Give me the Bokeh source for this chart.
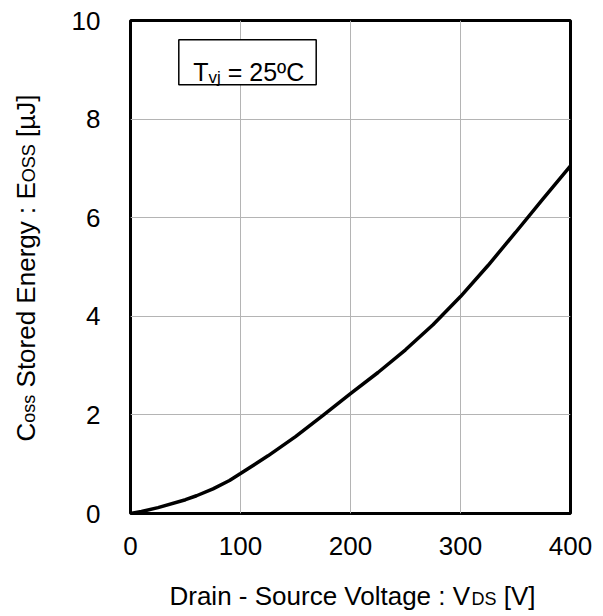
import math
from bokeh.plotting import figure
from bokeh.models import Range1d, Label, BoxAnnotation, FixedTicker
from bokeh.layouts import column, row
from bokeh.embed import file_html
from bokeh.resources import INLINE

# ---- data ----
vds = [0, 10, 25, 50, 60, 75, 90, 100, 125, 150, 175, 200, 225, 250, 275, 300, 325, 350, 375, 400]
eoss = [0.0, 0.04, 0.12, 0.28, 0.36, 0.50, 0.67, 0.81, 1.17, 1.56, 1.99, 2.43, 2.86, 3.32, 3.83, 4.40, 5.03, 5.70, 6.38, 7.05]
x_ticks = [0, 100, 200, 300, 400]
y_ticks = [0, 2, 4, 6, 8, 10]

FONT = "Liberation Sans"
F = 26      # main text size
FS = 18     # subscript size

# Arial / Liberation Sans advance widths (per 1000 em)
ADV = {'D': 722, 'r': 333, 'a': 556, 'i': 222, 'n': 556, ' ': 278, '-': 333, 'S': 667,
       'o': 556, 'u': 556, 'c': 500, 'e': 556, 'V': 667, 'l': 222, 't': 278, 'g': 556,
       ':': 278, '[': 278, ']': 278, 'C': 722, 'E': 667, 'y': 500, 'O': 778, 's': 500,
       'd': 556, 'µ': 577, 'J': 500, 'T': 611, 'v': 500, 'j': 222, '=': 584, '2': 556,
       '5': 556, 'º': 365}


def tw(s, size):
    return sum(ADV.get(ch, 556) for ch in s) * size / 1000.0


def add_piece(fig, text, x, y, size, angle=0.0, dx=0.0, dy=0.0):
    # leading spaces collapse in SVG text: shift instead
    lead = len(text) - len(text.lstrip(" "))
    shift = tw(" " * lead, size)
    if angle == 0:
        dx += shift
    else:
        dy += shift
    fig.add_layout(Label(x=x, y=y, x_offset=dx, y_offset=dy, text=text.lstrip(" "),
                         text_font=FONT, text_font_size=f"{size}px",
                         text_baseline="alphabetic", text_align="left",
                         angle=angle, text_color="black"))


def blank_fig(w, h):
    f = figure(width=w, height=h, output_backend="svg", toolbar_location=None, title=None,
               x_range=Range1d(0, w), y_range=Range1d(0, h),
               x_axis_type=None, y_axis_type=None,
               min_border=0, min_border_left=0, min_border_right=0,
               min_border_top=0, min_border_bottom=0)
    f.outline_line_color = None
    f.background_fill_color = "white"
    f.border_fill_color = "white"
    f.grid.visible = False
    return f


# ---- main plot ----
MAIN_W, MAIN_H = 545, 568
p = figure(width=MAIN_W, height=MAIN_H, output_backend="svg", toolbar_location=None,
           x_range=Range1d(0, 400), y_range=Range1d(0, 10),
           min_border_left=72, min_border_right=33, min_border_top=20, min_border_bottom=55)
p.background_fill_color = "white"
p.border_fill_color = "white"
p.outline_line_color = "black"
p.outline_line_width = 3

p.xaxis.ticker = FixedTicker(ticks=x_ticks)
p.yaxis.ticker = FixedTicker(ticks=y_ticks)
p.xgrid.ticker = FixedTicker(ticks=x_ticks)
p.ygrid.ticker = FixedTicker(ticks=y_ticks)
for g in (p.xgrid, p.ygrid):
    g.grid_line_color = "#b4b4b4"
    g.grid_line_width = 1

for ax in (p.xaxis, p.yaxis):
    ax.axis_line_color = None
    ax.major_tick_line_color = None
    ax.minor_tick_line_color = None
    ax.major_label_text_font = FONT
    ax.major_label_text_font_size = f"{F}px"
    ax.major_label_text_color = "black"
p.xaxis.major_label_standoff = 17
p.yaxis.major_label_standoff = 24

p.line(vds, eoss, line_color="black", line_width=3.5)

XPX = 440 / 400.0
YPX = 493 / 10.0

# annotation box (Tvj = 25ºC)
box_left, box_right = 48.3 / XPX, 185.7 / XPX
box_top, box_bottom = 10 - 19.3 / YPX, 10 - 64.3 / YPX
p.add_layout(BoxAnnotation(left=box_left, right=box_right, top=box_top, bottom=box_bottom,
                           fill_color="white", fill_alpha=1.0, line_color="black",
                           line_width=1.5, line_alpha=1.0))
bt = [("T", 25, 0), ("vj", 17, -5), (" = 25ºC", 25, 0)]
bx = 62.7
for t, s, sh in bt:
    add_piece(p, t, 0, 10, s, dx=bx, dy=-51.7 + sh)
    bx += tw(t, s)

# ---- y title panel (anchored at its frame's bottom-left, offsets in px) ----
YW = 58
yfig = blank_fig(YW, MAIN_H)
yt = [("C", F, 0), ("oss", FS, 3), (" Stored Energy : E", F, 0), ("OSS", FS, 3), (" [µJ]", F, 0)]
total = sum(tw(t, s) for t, s, _ in yt)
center_up = 245.5          # px above the anchor
cy = center_up - total / 2
for t, s, sh in yt:
    add_piece(yfig, t, 0, 0, s, angle=math.pi / 2, dx=25 + sh, dy=cy)
    cy += tw(t, s)

# ---- x title panel ----
XH = 616 - MAIN_H
xfig = blank_fig(YW + MAIN_W, XH)
xt = [("Drain - Source Voltage : V", F, 0), ("DS", FS, -3), (" [V]", F, 0)]
total = sum(tw(t, s) for t, s, _ in xt)
cx = 352 - total / 2
for t, s, sh in xt:
    add_piece(xfig, t, 0, 0, s, dx=cx, dy=21 + sh)
    cx += tw(t, s)

layout = column(row(yfig, p, spacing=0), xfig, spacing=0)
open("out.html", "w").write(file_html(layout, INLINE))
